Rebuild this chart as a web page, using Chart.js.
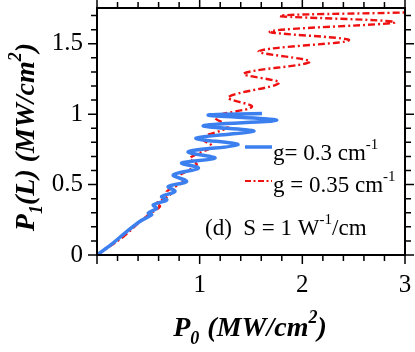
<!DOCTYPE html>
<html>
<head>
<meta charset="utf-8">
<script src="https://cdn.jsdelivr.net/npm/chart.js@4.4.1/dist/chart.umd.min.js"></script>
<style>
  html, body { margin: 0; padding: 0; background: #fff; }
  #chart { display: block; }
</style>
</head>
<body>
<canvas id="chart" width="415" height="352"></canvas>
<script>
// g = 0.3 cm^-1 (blue, solid) : P0 and P1(L)
const blueP0 = [0, 0.14, 0.289, 0.42, 0.532, 0.500, 0.581, 0.548, 0.679, 0.630, 0.759, 0.694,
  0.873, 0.743, 0.987, 0.825, 1.149, 0.889, 1.373, 0.964, 1.529, 1.035, 1.750, 1.084, 1.607];
const blueP1 = [0, 0.075, 0.166, 0.240, 0.285, 0.297, 0.332, 0.356, 0.391, 0.415, 0.451, 0.486,
  0.522, 0.569, 0.617, 0.653, 0.688, 0.733, 0.783, 0.830, 0.879, 0.918, 0.957, 0.993, 1.004];

// g = 0.35 cm^-1 (red, dash-dot)
const redP0 = [0, 0.256, 0.419, 0.500, 0.613, 0.581, 0.711, 0.679, 0.840, 0.792, 0.971, 0.906,
  1.117, 1.019, 1.276, 1.149, 1.509, 1.278, 1.775, 1.431, 2.074, 1.577, 2.454, 1.685, 2.902, 1.782, 3.0];
const redP1 = [0, 0.130, 0.237, 0.285, 0.344, 0.368, 0.427, 0.451, 0.522, 0.557, 0.641, 0.688,
  0.771, 0.830, 0.911, 0.979, 1.053, 1.120, 1.222, 1.288, 1.372, 1.447, 1.525, 1.587, 1.653, 1.698, 1.722];

const xTickLabels = [1, 2, 3];
const yTickLabels = [0, 0.5, 1, 1.5];

const SERIF = "'Liberation Serif', 'Times New Roman', serif";
const BLUE = '#3c80f0';
const RED = '#ee1111';

const toPoints = (xs, ys) => xs.map((x, i) => ({ x: x, y: ys[i] }));

// draws a run of text pieces (sub/superscripts) starting at x, baseline y
function drawRich(ctx, x, y, parts, align) {
  let total = 0;
  parts.forEach(p => {
    ctx.font = p.font;
    p.w = ctx.measureText(p.t).width;
    total += p.w + (p.gap || 0);
  });
  let cx = align === 'center' ? x - total / 2 : x;
  parts.forEach(p => {
    ctx.font = p.font;
    ctx.fillText(p.t, cx, y + (p.dy || 0));
    cx += p.w + (p.gap || 0);
  });
}

const frame = {
  id: 'frame',
  afterDraw(chart) {
    const { ctx, chartArea: a, scales } = chart;
    const xs = scales.x, ys = scales.y;
    ctx.save();
    ctx.setLineDash([]);
    ctx.strokeStyle = '#000000';
    ctx.lineWidth = 2;
    ctx.strokeRect(a.left, a.top, a.right - a.left, a.bottom - a.top);

    // outward ticks on all four sides
    ctx.lineWidth = 1.5;
    ctx.beginPath();
    for (let i = 0; i <= 15; i++) {
      const px = xs.getPixelForValue(i * 0.2);
      const len = i % 5 === 0 ? 9 : 6;
      ctx.moveTo(px, a.bottom); ctx.lineTo(px, a.bottom + len);
      ctx.moveTo(px, a.top); ctx.lineTo(px, a.top - len);
    }
    for (let i = 0; i <= 17; i++) {
      const py = ys.getPixelForValue(i * 0.1);
      const len = i % 5 === 0 ? 9 : 6;
      ctx.moveTo(a.left, py); ctx.lineTo(a.left - len, py);
      ctx.moveTo(a.right, py); ctx.lineTo(a.right + len, py);
    }
    ctx.stroke();

    // legend
    ctx.lineWidth = 3.5;
    ctx.strokeStyle = BLUE;
    ctx.beginPath(); ctx.moveTo(245, 147); ctx.lineTo(272, 147); ctx.stroke();
    ctx.lineWidth = 2.2;
    ctx.strokeStyle = RED;
    ctx.setLineDash([6, 2.5, 2, 2.5]);
    ctx.beginPath(); ctx.moveTo(245, 181); ctx.lineTo(272, 181); ctx.stroke();
    ctx.setLineDash([]);

    ctx.fillStyle = '#000';
    ctx.textBaseline = 'alphabetic';
    ctx.textAlign = 'left';
    const f = '23px ' + SERIF, fs = '15px ' + SERIF;
    drawRich(ctx, 273, 159.5, [{ t: 'g= 0.3 cm', font: f }, { t: '-1', font: fs, dy: -11 }]);
    drawRich(ctx, 273, 192, [{ t: 'g = 0.35 cm', font: f }, { t: '-1', font: fs, dy: -11 }]);
    drawRich(ctx, 205, 235, [{ t: '(d)  S = 1 W', font: f }, { t: '-1', font: fs, dy: -11 }, { t: '/cm', font: f }]);

    // axis titles
    const bf = 'bold italic 28px ' + SERIF, bs = 'bold italic 18px ' + SERIF;
    drawRich(ctx, 250, 336, [
      { t: 'P', font: bf }, { t: '0', font: bs, dy: 8, gap: 8 },
      { t: '(MW/cm', font: bf }, { t: '2', font: bs, dy: -13 }, { t: ')', font: bf }
    ], 'center');
    ctx.translate(34, 137);
    ctx.rotate(-Math.PI / 2);
    drawRich(ctx, 0, 0, [
      { t: 'P', font: bf }, { t: '1', font: bs, dy: 8 },
      { t: '(L) (MW/cm', font: bf }, { t: '2', font: bs, dy: -13 }, { t: ')', font: bf }
    ], 'center');
    ctx.restore();
  }
};

new Chart(document.getElementById('chart'), {
  type: 'scatter',
  data: {
    datasets: [{
      label: 'g= 0.3 cm-1',
      data: toPoints(blueP0, blueP1),
      showLine: true,
      borderColor: BLUE,
      borderWidth: 3.5,
      pointRadius: 0,
      tension: 0.35
    }, {
      label: 'g = 0.35 cm-1',
      data: toPoints(redP0, redP1),
      showLine: true,
      borderColor: RED,
      borderWidth: 2.4,
      borderDash: [7, 3, 2, 3],
      pointRadius: 0,
      tension: 0.35
    }]
  },
  options: {
    responsive: false,
    animation: false,
    devicePixelRatio: 1,
    layout: { padding: { top: 8, right: 10, left: 0, bottom: 0 } },
    plugins: {
      legend: { display: false },
      tooltip: { enabled: false }
    },
    scales: {
      x: {
        type: 'linear',
        min: 0,
        max: 3,
        grid: { display: false, drawTicks: false },
        border: { display: false },
        ticks: {
          stepSize: 1,
          padding: 15,
          color: '#000',
          font: { family: SERIF, size: 25 },
          callback: v => xTickLabels.includes(v) ? String(v) : ''
        },
        afterFit: s => { s.height = 97; s.paddingLeft = 0; s.paddingRight = 0; }
      },
      y: {
        type: 'linear',
        min: 0,
        max: 1.754,
        grid: { display: false, drawTicks: false },
        border: { display: false },
        ticks: {
          stepSize: 0.5,
          includeBounds: false,
          padding: 14,
          color: '#000',
          font: { family: SERIF, size: 25 },
          callback: v => yTickLabels.includes(v) ? String(v) : ''
        },
        afterFit: s => { s.width = 97; s.paddingTop = 0; s.paddingBottom = 0; }
      }
    }
  },
  plugins: [frame]
});
</script>
</body>
</html>
